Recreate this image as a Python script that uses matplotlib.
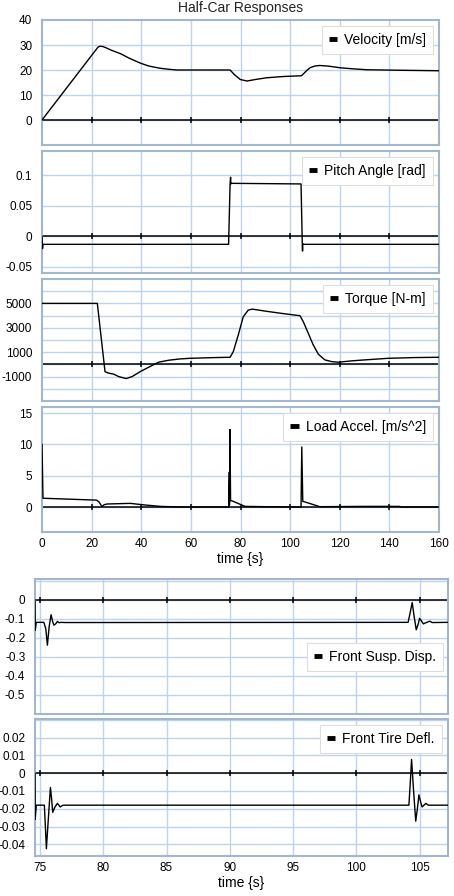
import numpy as np
import matplotlib
matplotlib.use("Agg")
import matplotlib.pyplot as plt
from matplotlib.lines import Line2D

plt.rcParams['font.family'] = ['Liberation Sans', 'DejaVu Sans']

# ---- data ----
vel_t = [0, 22.6, 23.4, 24.5, 26, 28, 31.7, 35, 39.5, 43, 47.6, 51, 54.4, 60, 75.8, 77.5, 79.9, 82.6, 86,
         90.6, 97.4, 104.6, 106.5, 108, 110, 111.8, 115, 120.1, 125, 130.9, 144.3, 160]
vel = [0, 29.2, 29.5, 29.4, 28.8, 27.9, 26.5, 24.8, 22.8, 21.6, 20.7, 20.3, 20.0, 20.0, 20.0, 18.2, 16.2,
       15.6, 16.2, 16.9, 17.4, 17.7, 19.6, 20.9, 21.6, 21.8, 21.6, 20.9, 20.5, 20.1, 19.9, 19.7]

pitch_t = [0, 0.2, 0.4, 75.2, 75.8, 76.0, 76.1, 76.3, 104.4, 104.9, 105.0, 105.1, 105.3, 160]
pitch = [0, -0.02, -0.013, -0.013, 0.086, 0.097, 0.086, 0.087, 0.086, -0.013, -0.024, -0.012, -0.013, -0.013]

torq_t = [0, 22.3, 25.4, 26.9, 28.9, 30.9, 33.9, 36.3, 39.6, 43.0, 47.0, 51.0, 55.7, 59.7, 69.8, 75.8,
          77.1, 79.1, 81.1, 83.1, 84.8, 89.9, 96.6, 104.0, 105.3, 107.3, 109.3, 111.4, 114.0, 116.7,
          119.4, 124.8, 130.1, 139.5, 150.3, 160]
torq = [5000, 5000, -600, -720, -800, -1000, -1160, -1000, -590, -230, 180, 340, 450, 500, 560, 585,
        1050, 2410, 3900, 4450, 4530, 4370, 4180, 3990, 3500, 2560, 1600, 830, 370, 230,
        180, 290, 370, 500, 560, 585]

acc_t = [0, 0.4, 22, 23, 24.1, 25.1, 26.2, 35.6, 40.3, 47.6, 55.7, 75.3, 75.5, 75.55, 75.75, 76.0,
         76.5, 81.8, 90, 104.4, 104.7, 105.1, 106, 112, 130, 144, 145, 160]
acc = [10, 1.4, 1.1, 0.8, 0.1, 0.37, 0.48, 0.58, 0.37, 0.1, 0.0, 0.0, 5.6, 0.3, 12.4, 1.0,
       1.0, 0.1, 0.05, 0.0, 9.6, 0.9, 0.8, 0.05, 0.1, 0.1, 0.0, 0.0]

susp_t = [74.6, 74.62, 74.7, 75.3, 75.45, 75.58, 75.72, 75.87, 76.0, 76.1, 76.25, 76.37, 76.5,
          76.65, 77.0, 104.1, 104.25, 104.42, 104.58, 104.74, 104.88, 105.0, 105.15, 105.3, 105.5,
          105.8, 106.0, 107.25]
susp = [0, -0.16, -0.118, -0.118, -0.15, -0.238, -0.14, -0.078, -0.115, -0.133, -0.125, -0.113, -0.12,
        -0.118, -0.119, -0.118, -0.07, -0.014, -0.09, -0.157, -0.13, -0.097, -0.11, -0.126, -0.12,
        -0.112, -0.119, -0.118]

tire_t = [74.6, 74.62, 74.7, 75.34, 75.42, 75.5, 75.66, 75.82, 75.92, 76.0, 76.18, 76.37, 76.6, 76.8,
          77.0, 104.16, 104.27, 104.37, 104.53, 104.7, 104.83, 104.95, 105.08, 105.2, 105.35, 105.5,
          105.7, 106.0, 107.25]
tire = [0, -0.026, -0.018, -0.018, -0.03, -0.0425, -0.025, -0.008, -0.015, -0.022, -0.019, -0.017,
        -0.019, -0.018, -0.018, -0.018, -0.005, 0.0077, -0.01, -0.027, -0.02, -0.0122, -0.016, -0.019,
        -0.018, -0.017, -0.018, -0.018, -0.018]

top_xticks = [0, 20, 40, 60, 80, 100, 120, 140, 160]
bot_xticks = [75, 80, 85, 90, 95, 100, 105]

GRID = '#bed4ee'
EDGE = '#a3b6cc'
W, H = 454, 896

fig = plt.figure(figsize=(W / 100, H / 100), dpi=100)


def add_panel(x0, x1, y0, y1):
    # pixel box -> figure fraction
    return fig.add_axes([x0 / W, 1 - y1 / H, (x1 - x0) / W, (y1 - y0) / H])


def style_panel(ax, t, y, label, xlim, ylim, yticks, ygrid, xticks, zero_ticks,
                loc='upper right', anchor=None):
    ax.set_xlim(*xlim)
    ax.set_ylim(*ylim)
    for g in xticks:
        if xlim[0] < g < xlim[1]:
            ax.axvline(g, color=GRID, lw=1.0, zorder=0)
    for g in ygrid:
        if ylim[0] < g < ylim[1]:
            ax.axhline(g, color=GRID, lw=1.0, zorder=0)
    ax.axhline(0, color='k', lw=1.1, zorder=2)
    ax.plot(zero_ticks, np.zeros(len(zero_ticks)), ls='none', marker='|', ms=5,
            mew=1.1, color='k', zorder=2)
    ax.plot(t, y, color='k', lw=1.0, zorder=3)
    ax.set_yticks(yticks)
    ax.set_yticklabels([f'{v:g}' for v in yticks])
    ax.set_xticks(xticks)
    ax.tick_params(length=0, labelsize=8.5, pad=7)
    ax.tick_params(axis='x', pad=4)
    for s in ax.spines.values():
        s.set_color(EDGE)
        s.set_linewidth(1.5)
    h = Line2D([], [], color='k', lw=3.5, solid_capstyle='butt')
    kw = dict(loc=loc, fontsize=10, handlelength=0.6, handletextpad=0.5,
              fancybox=False, framealpha=1, edgecolor='#dddddd', borderpad=0.5,
              borderaxespad=0.45)
    if anchor is not None:
        kw['bbox_to_anchor'] = anchor
    leg = ax.legend([h], [label], **kw)
    leg.get_frame().set_linewidth(0.8)


# ---- top group ----
ax1 = add_panel(42, 439, 20, 145)
style_panel(ax1, vel_t, vel, 'Velocity [m/s]', (0, 160), (-10, 40),
            [0, 10, 20, 30, 40], [-10, 0, 10, 20, 30, 40], top_xticks, top_xticks[1:-1])
ax1.set_xticklabels([])
ax1.set_title('Half-Car Responses', fontsize=10, pad=6, color='#222222')

ax2 = add_panel(42, 439, 151, 273)
style_panel(ax2, pitch_t, pitch, 'Pitch Angle [rad]', (0, 160), (-0.06, 0.14),
            [-0.05, 0, 0.05, 0.1], [-0.05, 0, 0.05, 0.1], top_xticks, top_xticks[1:-1])
ax2.set_xticklabels([])

ax3 = add_panel(42, 439, 279, 401)
style_panel(ax3, torq_t, torq, 'Torque [N-m]', (0, 160), (-3000, 7000),
            [-1000, 1000, 3000, 5000], list(range(-2000, 7000, 1000)), top_xticks,
            top_xticks[1:-1])
ax3.set_xticklabels([])

ax4 = add_panel(42, 439, 407, 532)
style_panel(ax4, acc_t, acc, 'Load Accel. [m/s^2]', (0, 160), (-4, 16),
            [0, 5, 10, 15], [0, 5, 10, 15], top_xticks, top_xticks[1:-1])
ax4.set_xlabel('time {s}', fontsize=10, labelpad=2)

# ---- bottom group ----
ax5 = add_panel(35, 448, 579, 714)
style_panel(ax5, susp_t, susp, 'Front Susp. Disp.', (74.6, 107.25), (-0.6, 0.11),
            [-0.5, -0.4, -0.3, -0.2, -0.1, 0], [-0.5, -0.4, -0.3, -0.2, -0.1, 0, 0.1],
            bot_xticks, bot_xticks, loc='lower right', anchor=(1.003, 0.27))
ax5.set_xticklabels([])

ax6 = add_panel(35, 448, 719, 856)
style_panel(ax6, tire_t, tire, 'Front Tire Defl.', (74.6, 107.25), (-0.0466, 0.0305),
            [-0.04, -0.03, -0.02, -0.01, 0, 0.01, 0.02],
            [-0.04, -0.03, -0.02, -0.01, 0, 0.01, 0.02, 0.03], bot_xticks, bot_xticks)
ax6.set_xlabel('time {s}', fontsize=10, labelpad=2)

fig.savefig('out.png', dpi=100)
